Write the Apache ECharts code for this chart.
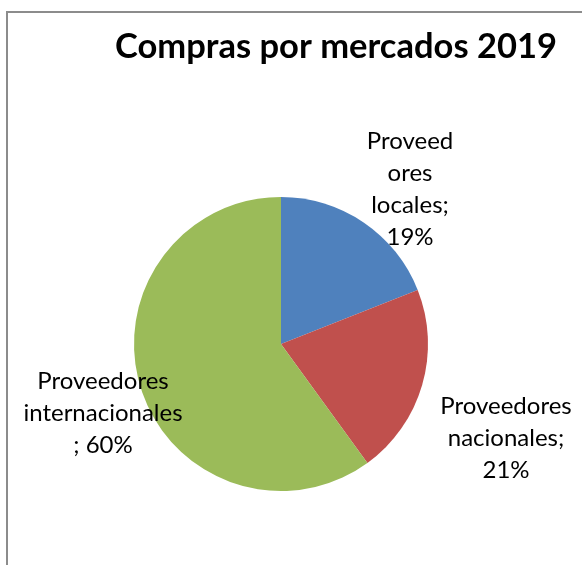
<!DOCTYPE html>
<html>
<head>
<meta charset="utf-8">
<script src="https://cdn.jsdelivr.net/npm/echarts@6/dist/echarts.min.js"></script>
<style>
  html, body { margin: 0; padding: 0; background: #ffffff; }
  #chart { width: 582px; height: 565px; }
</style>
</head>
<body>
<div id="chart"></div>
<script>
// Purchases by market, 2019 (share of total, %)
const categories = ['Proveedores locales', 'Proveedores nacionales', 'Proveedores internacionales'];
const shares = [19, 21, 60];
// Wrapped label text per slice; {c} is replaced by the slice value
const labelTemplates = [
  'Proveed\nores\nlocales;\n{c}%',
  'Proveedores\nnacionales;\n{c}%',
  'Proveedores\ninternacionales\n; {c}%'
];
const sliceColors = ['#4f81bd', '#c0504d', '#9bbb59'];
// Label block centres (px)
const labelSpots = [[410, 189], [506, 438], [103, 413]];

const chart = echarts.init(document.getElementById('chart'), null, { renderer: 'canvas' });

chart.setOption({
  backgroundColor: '#ffffff',
  animation: false,
  title: {
    text: 'Compras por mercados 2019',
    left: 331,
    top: 24,
    textAlign: 'center',
    textStyle: {
      fontFamily: 'Lato',
      fontWeight: 'bold',
      fontSize: 34.5,
      color: '#000000'
    }
  },
  graphic: [{
    type: 'rect',
    shape: { x: 7, y: 12, width: 700, height: 700 },
    style: { fill: 'none', stroke: '#8c8c8c', lineWidth: 2 },
    silent: true,
    z: -1
  }],
  series: [{
    type: 'pie',
    center: [281, 344],
    radius: [0, 147],
    startAngle: 90,
    clockwise: true,
    data: categories.map((name, i) => ({
      name,
      value: shares[i],
      itemStyle: { color: sliceColors[i] },
      label: { formatter: labelTemplates[i] }
    })),
    itemStyle: { borderWidth: 0 },
    label: {
      show: true,
      position: 'outside',
      fontFamily: 'Lato',
      fontSize: 24,
      lineHeight: 32,
      color: '#000000',
      align: 'center',
      overflow: 'none'
    },
    labelLine: { show: false },
    labelLayout: params => ({
      x: labelSpots[params.dataIndex][0],
      y: labelSpots[params.dataIndex][1],
      align: 'center',
      verticalAlign: 'middle'
    }),
    emphasis: { disabled: true }
  }]
});
</script>
</body>
</html>
